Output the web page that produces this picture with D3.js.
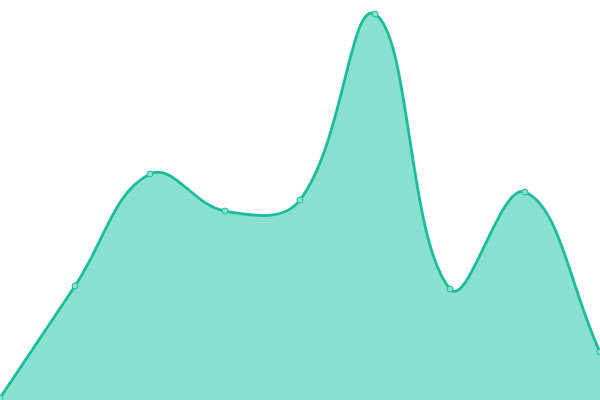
<!DOCTYPE html>
<html><head><meta charset="utf-8">
<script src="https://cdn.jsdelivr.net/npm/d3@7"></script>
<style>html,body{margin:0;padding:0;background:#fff;}svg{display:block;}</style>
</head><body>
<svg id="c" width="600" height="400"></svg>
<script>
const categories = ["A","B","C","D","E","F","G","H","I"];
const values = [0.5, 28.5, 56.5, 47.25, 50, 96.5, 27.75, 52, 12];

const W = 600, H = 400;
const svg = d3.select("#c");
const x = d3.scalePoint().domain(categories).range([0, W]);
const y = d3.scaleLinear().domain([0, 100]).range([H, 0]);
const data = categories.map((c, i) => ({c, v: values[i]}));

// Spline with distance-weighted tangents (tension 0.4), control points capped to the plot area
function SplineCurve(context) { this._context = context; }
SplineCurve.prototype = {
  areaStart() { this._line = 0; },
  areaEnd() { this._line = NaN; },
  lineStart() { this._pts = []; },
  point(px, py) { this._pts.push([+px, +py]); },
  lineEnd() {
    const p = this._pts, n = p.length, ctx = this._context, t = 0.4;
    const cap = (v, lo, hi) => Math.max(Math.min(v, hi), lo);
    if (n) {
      const cps = p.map((cur, i) => {
        const prev = p[i - 1] || cur, next = p[i + 1] || cur;
        const d01 = Math.hypot(cur[0] - prev[0], cur[1] - prev[1]);
        const d12 = Math.hypot(next[0] - cur[0], next[1] - cur[1]);
        let s01 = d01 / (d01 + d12), s12 = d12 / (d01 + d12);
        if (isNaN(s01)) s01 = 0; if (isNaN(s12)) s12 = 0;
        const fa = t * s01, fb = t * s12;
        const dx = next[0] - prev[0], dy = next[1] - prev[1];
        return {
          prev: [cap(cur[0] - fa * dx, 0, W), cap(cur[1] - fa * dy, 0, H)],
          next: [cap(cur[0] + fb * dx, 0, W), cap(cur[1] + fb * dy, 0, H)]
        };
      });
      if (this._line) ctx.lineTo(p[0][0], p[0][1]); else ctx.moveTo(p[0][0], p[0][1]);
      for (let i = 1; i < n; i++) {
        const a = cps[i - 1].next, b = cps[i].prev;
        ctx.bezierCurveTo(a[0], a[1], b[0], b[1], p[i][0], p[i][1]);
      }
    }
    if (this._line || (this._line !== 0 && n === 1)) ctx.closePath();
    this._line = 1 - this._line;
  }
};
const curve = ctx => new SplineCurve(ctx);

svg.append("path").datum(data)
  .attr("fill", "#8ae0cf")
  .attr("d", d3.area().x(d => x(d.c)).y0(H).y1(d => y(d.v)).curve(curve));
svg.append("path").datum(data)
  .attr("fill", "none").attr("stroke", "#1abc9c").attr("stroke-width", 2.8)
  .attr("d", d3.line().x(d => x(d.c)).y(d => y(d.v)).curve(curve));
svg.selectAll("circle").data(data).join("circle")
  .attr("cx", d => x(d.c)).attr("cy", d => y(d.v)).attr("r", 3)
  .attr("fill", "#8ae0cf").attr("stroke", "#1abc9c").attr("stroke-width", 1);
</script>
</body></html>
